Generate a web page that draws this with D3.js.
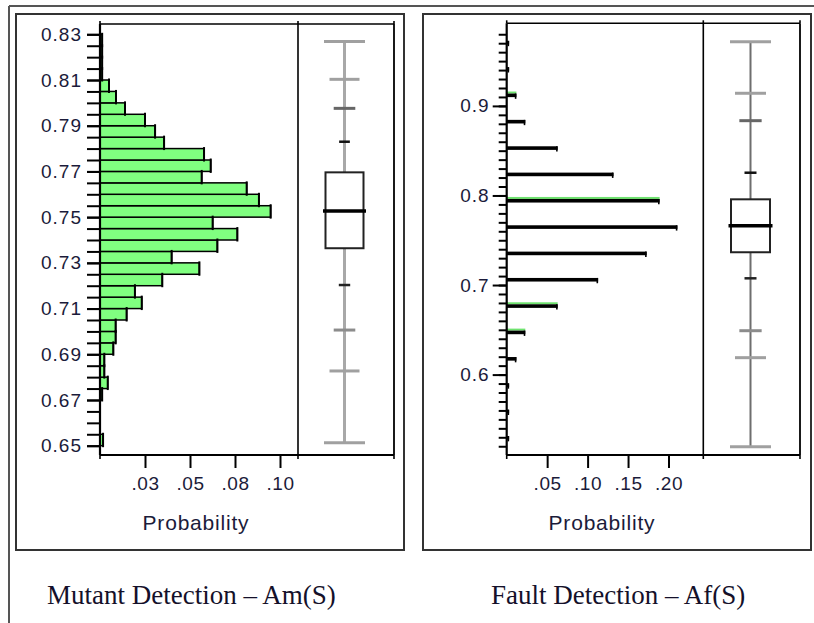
<!DOCTYPE html>
<html><head><meta charset="utf-8">
<script src="https://cdn.jsdelivr.net/npm/d3@7"></script>
<style>
html,body{margin:0;padding:0;background:#fff;}
svg{display:block;}
</style></head><body>
<svg id="chart" width="814" height="623"></svg>
<script>
// ---------- Mutant detection Am(S) ----------
const mutantBinLower = [0.650,0.655,0.660,0.665,0.670,0.675,0.680,0.685,0.690,0.695,0.700,0.705,0.710,0.715,0.720,0.725,0.730,0.735,0.740,0.745,0.750,0.755,0.760,0.765,0.770,0.775,0.780,0.785,0.790,0.795,0.800,0.805,0.810,0.815,0.820,0.825];
const mutantProb     = [0.0017,0,0,0,0.0012,0.0043,0.0024,0.0024,0.0074,0.0087,0.0087,0.0148,0.0232,0.0194,0.0346,0.0552,0.0398,0.0652,0.0763,0.0626,0.0948,0.0883,0.0815,0.0565,0.0615,0.0578,0.0356,0.0306,0.0250,0.0139,0.0089,0.0050,0.0012,0.0012,0.0012,0.0012];
const mutantBinWidth = 0.005;
const mutantYLabels = [0.65,0.67,0.69,0.71,0.73,0.75,0.77,0.79,0.81,0.83];
const mutantXTicks = [0.025,0.05,0.075,0.10];
const mutantXTickLabels = [".03",".05",".08",".10"];
const mutantBoxStats = [0.6513,0.7364,0.7527,0.7696,0.8268]; // min, q1, median, q3, max
const mutantQuantiles = [0.8103,0.7976,0.7830,0.7203,0.7006,0.6827];

// ---------- Fault detection Af(S) ----------
const faultValues = [0.5294,0.5588,0.5882,0.6176,0.6471,0.6765,0.7059,0.7353,0.7647,0.7941,0.8235,0.8529,0.8824,0.9118,0.9412,0.9706];
const faultProb   = [0.003,0.003,0.003,0.012,0.023,0.063,0.113,0.173,0.211,0.189,0.132,0.063,0.023,0.012,0.003,0.003];
const faultGreenShown = [0.6471,0.6765,0.7941,0.9118];
const faultYLabels = [0.6,0.7,0.8,0.9];
const faultXTicks = [0.05,0.10,0.15,0.20];
const faultXTickLabels = [".05",".10",".15",".20"];
const faultBoxStats = [0.5195,0.7366,0.7663,0.7957,0.9717];
const faultQuantiles = [0.9141,0.8835,0.8254,0.7075,0.6490,0.6189];

const titles = ["Mutant Detection \u2013 Am(S)", "Fault Detection \u2013 Af(S)"];
const axisTitle = "Probability";

const svg = d3.select("#chart");
const TXT = "#1b1b3a";
const GREEN = "#80ff80";

// outer frame
svg.append("line").attr("x1",9).attr("y1",6).attr("x2",814).attr("y2",6).attr("stroke","#555").attr("stroke-width",2);
svg.append("line").attr("x1",9).attr("y1",6).attr("x2",9).attr("y2",623).attr("stroke","#555").attr("stroke-width",2);

function drawPanel(cfg){
  const g = svg.append("g");
  g.append("rect").attr("x",cfg.box[0]).attr("y",cfg.box[1]).attr("width",cfg.box[2]-cfg.box[0]).attr("height",cfg.box[3]-cfg.box[1])
    .attr("fill","none").attr("stroke","#333").attr("stroke-width",2);

  const x = d3.scaleLinear().domain(cfg.xDomain).range(cfg.xRange);
  const y = d3.scaleLinear().domain(cfg.yDomain).range(cfg.yRange);
  const L = cfg.plot.left, T = cfg.plot.top, R = cfg.plot.right, B = cfg.plot.bottom, D = cfg.plot.divider;

  cfg.drawBars(g, x, y);

  const yMinor = g.append("g").attr("transform",`translate(${L},0)`)
    .call(d3.axisLeft(y).tickValues(cfg.yMinor).tickSize(cfg.minorLen).tickFormat(""));
  yMinor.select(".domain").remove();
  yMinor.selectAll("line").attr("stroke","#000").attr("stroke-width",2);
  const yMajor = g.append("g").attr("transform",`translate(${L},0)`)
    .call(d3.axisLeft(y).tickValues(cfg.yLabels).tickSize(cfg.majorLen).tickPadding(cfg.yPad).tickFormat(cfg.yFormat));
  yMajor.select(".domain").remove();
  yMajor.selectAll("line").attr("stroke","#000").attr("stroke-width",2);
  yMajor.selectAll("text").attr("font-family","'Liberation Sans', Arial, sans-serif").attr("font-size",19)
    .attr("letter-spacing","1px").attr("fill",TXT);

  const xa = g.append("g").attr("transform",`translate(0,${B})`)
    .call(d3.axisBottom(x).tickValues(cfg.xTicks).tickSize(13).tickPadding(9).tickFormat((d,i)=>cfg.xLabels[i]));
  xa.select(".domain").remove();
  xa.selectAll("line").attr("stroke","#000").attr("stroke-width",2);
  xa.selectAll("text").attr("font-family","'Liberation Sans', Arial, sans-serif").attr("font-size",19)
    .attr("letter-spacing","0.6px").attr("fill",TXT);

  const fr = g.append("g").attr("stroke","#000").attr("fill","none");
  fr.append("line").attr("x1",L).attr("y1",T).attr("x2",R).attr("y2",T).attr("stroke-width",1.6);
  fr.append("line").attr("x1",L).attr("y1",B).attr("x2",R).attr("y2",B).attr("stroke-width",1.8);
  fr.append("line").attr("x1",R).attr("y1",T).attr("x2",R).attr("y2",B).attr("stroke-width",1.8);
  fr.append("line").attr("x1",D).attr("y1",T).attr("x2",D).attr("y2",B).attr("stroke-width",1.6);
  fr.append("line").attr("x1",L).attr("y1",T).attr("x2",L).attr("y2",B).attr("stroke-width",2.2);
  [L,D,R].forEach(xx=>{
    fr.append("line").attr("x1",xx).attr("y1",T-3).attr("x2",xx).attr("y2",T).attr("stroke-width",1.6);
    fr.append("line").attr("x1",xx).attr("y1",B).attr("x2",xx).attr("y2",B+4).attr("stroke-width",1.6);
  });

  const cx = cfg.boxCx;
  const s = cfg.boxStats;
  g.append("line").attr("x1",cx).attr("x2",cx).attr("y1",y(s[0])).attr("y2",y(s[4]))
    .attr("stroke",cfg.whiskerColor).attr("stroke-width",cfg.whiskerWidth);
  [s[0],s[4]].forEach(v=>{
    g.append("line").attr("x1",cx-20.5).attr("x2",cx+20.5).attr("y1",y(v)).attr("y2",y(v))
      .attr("stroke","#a0a0a0").attr("stroke-width",3);
  });
  const qw = cfg.quantWidths, qc = ["#a0a0a0","#666","#111","#222","#8c8c8c","#a0a0a0"];
  cfg.quantiles.forEach((v,i)=>{
    g.append("line").attr("x1",cx-qw[i]/2).attr("x2",cx+qw[i]/2).attr("y1",y(v)).attr("y2",y(v))
      .attr("stroke",qc[i]).attr("stroke-width",i===2||i===3?2.5:3);
  });
  g.append("rect").attr("x",cx-cfg.boxHalf).attr("width",2*cfg.boxHalf)
    .attr("y",y(s[3])).attr("height",y(s[1])-y(s[3]))
    .attr("fill","#fff").attr("stroke","#222").attr("stroke-width",2);
  g.append("line").attr("x1",cx-cfg.boxHalf-2.5).attr("x2",cx+cfg.boxHalf+2.5).attr("y1",y(s[2])).attr("y2",y(s[2]))
    .attr("stroke","#000").attr("stroke-width",3.5);

  g.append("text").attr("x",cfg.probX).attr("y",530).attr("text-anchor","middle")
    .attr("font-family","'Liberation Sans', Arial, sans-serif").attr("font-size",21).attr("letter-spacing","0.8px")
    .attr("fill",TXT).text(axisTitle);
  svg.append("text").attr("x",cfg.titleX).attr("y",604)
    .attr("font-family","'Liberation Serif', 'Times New Roman', serif").attr("font-size",27)
    .attr("fill","#14102a").text(cfg.title);
}

drawPanel({
  box:[16,14,404,550],
  plot:{left:100,top:24,right:394,bottom:455,divider:298},
  xDomain:[0,0.11], xRange:[100,298],
  yDomain:[0.65,0.83], yRange:[445.7,34.3],
  yMinor:d3.range(0,37).map(i=>0.65+i*0.005),
  yLabels:mutantYLabels, yFormat:d3.format(".2f"), minorLen:13, majorLen:13, yPad:5,
  xTicks:mutantXTicks, xLabels:mutantXTickLabels,
  boxCx:344.5, boxHalf:19, boxStats:mutantBoxStats, quantiles:mutantQuantiles,
  quantWidths:[30,21.6,10.7,11.4,21.6,30],
  whiskerColor:"#a8a8a8", whiskerWidth:3,
  probX:196, titleX:47, title:titles[0],
  drawBars:(g,x,y)=>{
    const data = mutantBinLower.map((lo,i)=>({lo, p:mutantProb[i]})).filter(d=>d.p>0);
    g.selectAll(".mbar").data(data).join("rect").attr("class","mbar")
      .attr("x",x(0)).attr("width",d=>x(d.p)-x(0))
      .attr("y",d=>y(d.lo+mutantBinWidth)).attr("height",d=>y(d.lo)-y(d.lo+mutantBinWidth))
      .attr("fill",GREEN).attr("stroke","#000").attr("stroke-width",1.5);
    g.selectAll(".mend").data(data).join("line").attr("class","mend")
      .attr("x1",d=>x(d.p)).attr("x2",d=>x(d.p))
      .attr("y1",d=>y(d.lo+mutantBinWidth)-1.5).attr("y2",d=>y(d.lo)+1.5)
      .attr("stroke","#000").attr("stroke-width",2);
  }
});

drawPanel({
  box:[423,14,811,550],
  plot:{left:506.7,top:23.3,right:800,bottom:455,divider:703.3},
  xDomain:[0,0.2], xRange:[506.7,668.5],
  yDomain:[0.6,0.9], yRange:[374.6,105.9],
  yMinor:d3.range(0,47).map(i=>0.52+i*0.01),
  yLabels:faultYLabels, yFormat:d3.format(".1f"), minorLen:8, majorLen:14, yPad:3,
  xTicks:faultXTicks, xLabels:faultXTickLabels,
  boxCx:750.5, boxHalf:19.5, boxStats:faultBoxStats, quantiles:faultQuantiles,
  quantWidths:[31,22.3,12,12,22.3,31],
  whiskerColor:"#6e6e6e", whiskerWidth:2,
  probX:602, titleX:491, title:titles[1],
  drawBars:(g,x,y)=>{
    const data = faultValues.map((v,i)=>({v, p:faultProb[i], green:faultGreenShown.includes(v)}));
    g.selectAll(".fgreen").data(data.filter(d=>d.green)).join("rect").attr("class","fgreen")
      .attr("x",x(0)).attr("width",d=>x(d.p)-x(0))
      .attr("y",d=>y(d.v)-3.8).attr("height",2)
      .attr("fill","#6fe36f");
    g.selectAll(".fbar").data(data).join("rect").attr("class","fbar")
      .attr("x",x(0)).attr("width",d=>x(d.p)-x(0))
      .attr("y",d=>y(d.v)-1.8).attr("height",3.6)
      .attr("fill","#000");
    g.selectAll(".fend").data(data).join("line").attr("class","fend")
      .attr("x1",d=>x(d.p)-0.8).attr("x2",d=>x(d.p)-0.8)
      .attr("y1",d=>y(d.v)-1.8).attr("y2",d=>y(d.v)+3.5)
      .attr("stroke","#000").attr("stroke-width",1.6);
  }
});
</script>
</body></html>
